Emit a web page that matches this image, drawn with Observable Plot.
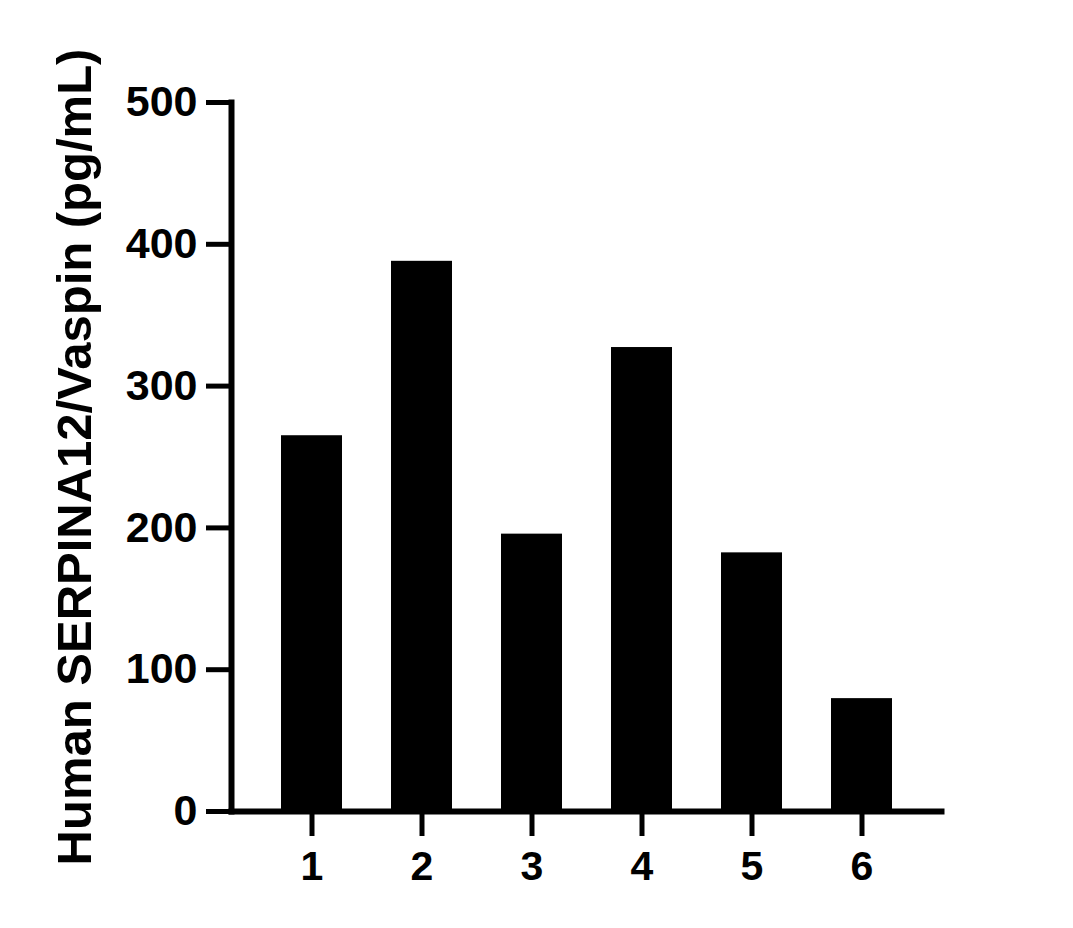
<!DOCTYPE html>
<html>
<head>
<meta charset="utf-8">
<script src="https://cdn.jsdelivr.net/npm/d3@7"></script>
<script src="https://cdn.jsdelivr.net/npm/@observablehq/plot@0.6"></script>
<style>
  html, body { margin: 0; padding: 0; background: #fff; }
  #chart svg { display: block; }
</style>
</head>
<body>
<div id="chart"></div>
<script>
const categories = ["1", "2", "3", "4", "5", "6"];
const values = [265, 388, 195.6, 327.2, 182.4, 79.6];
const yTicks = [0, 100, 200, 300, 400, 500];
const yLabel = "Human SERPINA12/Vaspin (pg/mL)";

const data = categories.map((c, i) => ({category: c, value: values[i]}));
const font = "'Liberation Sans', Arial, Helvetica, sans-serif";

const chart = Plot.plot({
  width: 1073,
  height: 928,
  marginLeft: 231,
  marginRight: 132,
  marginTop: 102,
  marginBottom: 117,
  style: {fontFamily: font, fontWeight: "bold", color: "#000", background: "#fff"},
  x: {domain: categories, paddingInner: 0.4455, paddingOuter: 0.45},
  y: {domain: [0, 500]},
  marks: [
    Plot.barY(data, {x: "category", y: "value", fill: "#000"}),
    Plot.axisY({
      ticks: yTicks, tickSize: 25, tickPadding: 9, strokeWidth: 5,
      fontSize: 43, fontWeight: "bold", label: null, tickFormat: d => String(d)
    }),
    Plot.axisX({
      tickSize: 25, tickPadding: 14, strokeWidth: 5,
      fontSize: 41, fontWeight: "bold", label: null
    }),
    Plot.frame({anchor: "left", strokeWidth: 6, stroke: "#000"}),
    Plot.frame({anchor: "bottom", strokeWidth: 6, stroke: "#000"}),
    Plot.text([yLabel], {
      text: d => d, frameAnchor: "left", rotate: -90, dx: -141,
      lineAnchor: "bottom", textAnchor: "middle",
      fontSize: 49, fontWeight: "bold", fill: "#000"
    })
  ]
});
document.getElementById("chart").appendChild(chart);
</script>
</body>
</html>
